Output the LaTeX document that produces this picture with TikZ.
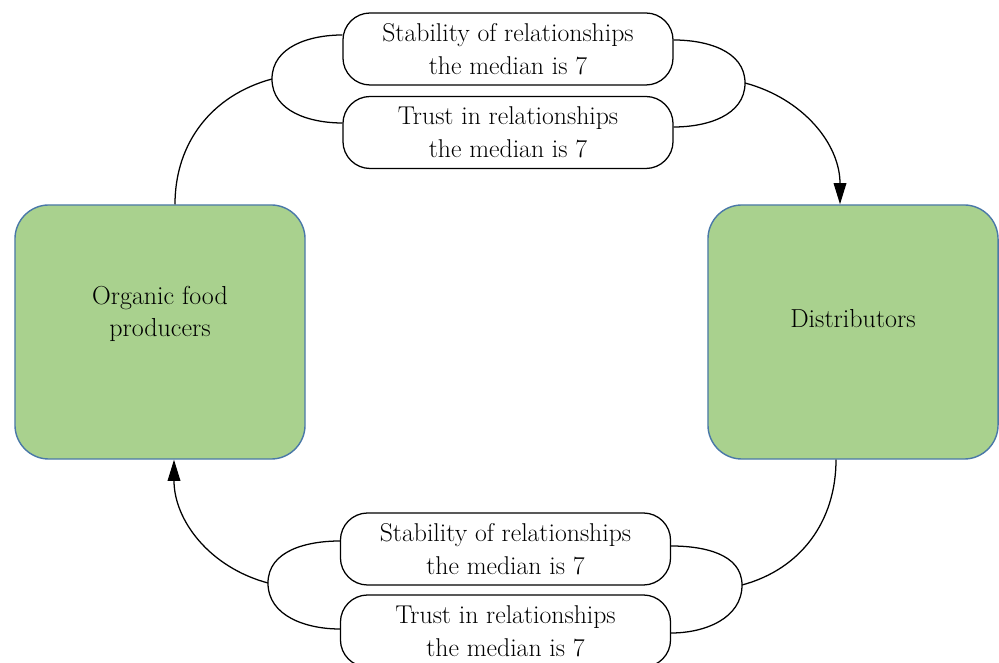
\documentclass[tikz,border=0pt]{standalone}
\usepackage{xcolor}
\usepackage{tikz}
\usetikzlibrary{arrows.meta,calc,positioning}

\definecolor{boxgreen}{HTML}{A9D18E}
\definecolor{boxblue}{HTML}{4A78A8}

\begin{document}
\begin{tikzpicture}
  [
    x=0.025cm,y=0.025cm,
    actor/.style={rectangle,rounded corners=0.85cm,draw=boxblue,fill=boxgreen,line width=1pt,minimum width=7.25cm,minimum height=6.35cm,align=center,font=\fontsize{18.5}{23}\selectfont},
    factor/.style={rectangle,rounded corners=0.68cm,draw=black,line width=0.9pt,minimum width=8.25cm,minimum height=1.8cm,align=center,inner sep=0pt,font=\fontsize{18.3}{23.5}\selectfont},
    link/.style={draw=black,line width=0.9pt},
    flow/.style={link,-{Triangle[length=15pt,width=9pt]}}
  ]
  \useasboundingbox (0,0) rectangle (999,663);
  \node[actor,text height=31pt,text depth=24pt] at (160,331) (producers) {Organic food\\producers};
  \node[actor,text height=13pt,text depth=20pt] at (853,331) (distributors) {Distributors};
  \node[factor] at (508,614) (stability 1) {Stability of relationships\\the median is 7};
  \node[factor] at (508,530.5) (trust 1) {Trust in relationships\\the median is 7};
  \node[factor] at (505.5,114) (stability 2) {Stability of relationships\\the median is 7};
  \node[factor] at (505.5,32) (trust 2) {Trust in relationships\\the median is 7};
  \coordinate (join tl) at (272,584);
  \coordinate (join tr) at (745,580);
  \coordinate (join bl) at (268,80);
  \coordinate (join br) at (742,78);
  % brackets round the two factor boxes
  \draw[link] ($(stability 1.west)+(0,14)$) to[out=180,in=90] (join tl) to[out=-90,in=180] ($(trust 1.west)+(0,9.5)$);
  \draw[link] ($(stability 1.east)+(0,9)$) to[out=0,in=90] (join tr) to[out=-90,in=0] ($(trust 1.east)+(0,5.5)$);
  \draw[link] ($(stability 2.west)+(0,8)$) to[out=180,in=90] (join bl) to[out=-90,in=180] ($(trust 2.west)+(0,2)$);
  \draw[link] ($(stability 2.east)+(0,3)$) to[out=0,in=90] (join br) to[out=-90,in=0] ($(trust 2.east)+(0,-2)$);
  % connectors
  \draw[link] ($(producers.north)+(15,0)$) to[out=90,in=195] (join tl);
  \draw[flow] (join tr) to[out=-15,in=90] ($(distributors.north)+(-13,0)$);
  \draw[link] ($(distributors.south)+(-17,0)$) to[out=-90,in=15] (join br);
  \draw[flow] (join bl) to[out=165,in=-90] ($(producers.south)+(14,0)$);
\end{tikzpicture}
\end{document}
